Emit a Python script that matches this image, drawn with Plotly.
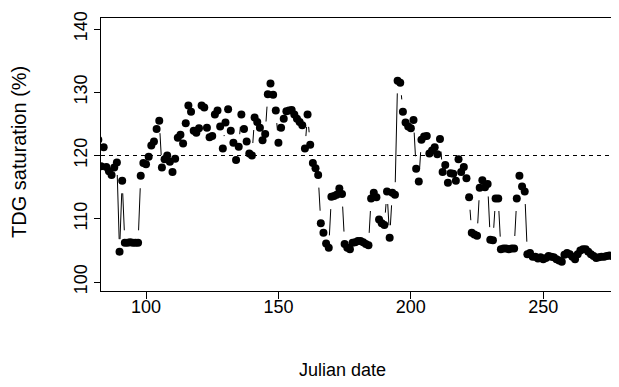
import math
import plotly.graph_objects as go

# ---- data ----
days = list(range(82, 280))
tdg = [
    122.5, 118.3, 121.3, 118.2, 117.5, 116.9, 118.1, 118.9, 104.8, 116.0,  # 82-91
    106.2, 106.2, 106.3, 106.2, 106.2, 106.2, 116.8, 118.8, 118.6, 119.8,  # 92-101
    121.6, 122.2, 124.2, 125.5, 118.1, 119.4, 120.0, 119.0, 117.4, 119.5,  # 102-111
    122.8, 123.3, 121.9, 125.1, 127.9, 126.9, 123.9, 123.6, 124.3, 127.9,  # 112-121
    127.6, 124.4, 122.9, 123.1, 126.5, 127.1, 124.6, 121.1, 125.2, 127.3,  # 122-131
    123.9, 122.0, 119.3, 121.4, 126.5, 124.2, 122.2, 120.3, 120.0, 126.0,  # 132-141
    125.3, 124.4, 122.4, 123.4, 129.7, 131.4, 129.6, 127.1, 122.0, 124.4,  # 142-151
    125.8, 127.0, 127.1, 127.2, 126.5, 125.8, 125.3, 124.8, 121.1, 126.5,  # 152-161
    121.7, 118.8, 118.0, 116.9, 109.3, 107.8, 106.1, 105.4, 113.5, 113.6,  # 162-171
    113.8, 114.8, 113.9, 106.0, 105.4, 105.2, 106.2, 106.3, 106.5, 106.5,  # 172-181
    106.3, 106.0, 105.8, 113.2, 114.1, 113.4, 109.9, 109.3, 109.0, 114.3,  # 182-191
    107.0, 114.1, 113.8, 131.8, 131.5, 126.9, 125.2, 124.6, 124.3, 125.6,  # 192-201
    117.9, 115.9, 122.5, 123.0, 123.1, 120.3, 120.8, 121.3, 120.2, 122.6,  # 202-211
    117.4, 118.5, 115.7, 117.2, 117.1, 116.0, 119.4, 117.4, 118.2, 116.4,  # 212-221
    113.4, 107.8, 107.5, 107.3, 114.9, 116.1, 115.0, 115.5, 106.7, 106.6,  # 222-231
    113.2, 113.2, 105.2, 105.3, 105.3, 105.2, 105.3, 105.3, 113.2, 116.8,  # 232-241
    115.1, 114.3, 104.4, 104.6, 104.0, 104.0, 103.7, 103.9, 103.6, 103.8,  # 242-251
    104.1, 104.0, 103.9, 103.6, 103.4, 103.2, 104.3, 104.6, 104.4, 104.0,  # 252-261
    103.6, 104.4, 105.0, 105.2, 105.2, 104.8, 104.4, 104.1, 103.8, 103.9,  # 262-271
    104.0, 104.0, 104.1, 104.2, 104.1, 104.3, 104.4, 104.4,                # 272-279
]
threshold = 120
x_ticks = [100, 150, 200, 250]
y_ticks = [100, 110, 120, 130, 140]

# ---- layout geometry (page body adds an 8px margin) ----
OFF = 8
W, H = 619 - OFF, 387 - OFF
PL, PT, PB = 101, 18, 291          # plot box in window pixels
ML, MT = PL - OFF, PT - OFF
MR = 0
MB = H - (PB - OFF)
XR = [83.0, 278.6]
YR = [98.58, 141.74]
plot_w = W - ML - MR
plot_h = H - MT - MB
ppx = plot_w / (XR[1] - XR[0])
ppy = plot_h / (YR[1] - YR[0])
GAP = 12.5  # px gap around points (R type="b")

sx, sy = [], []
for i in range(len(days) - 1):
    dxp = (days[i + 1] - days[i]) * ppx
    dyp = (tdg[i + 1] - tdg[i]) * ppy
    L = math.hypot(dxp, dyp)
    if L > 2 * GAP:
        f = GAP / L
        x0 = days[i] + (days[i + 1] - days[i]) * f
        y0 = tdg[i] + (tdg[i + 1] - tdg[i]) * f
        x1 = days[i + 1] - (days[i + 1] - days[i]) * f
        y1 = tdg[i + 1] - (tdg[i + 1] - tdg[i]) * f
        sx += [x0, x1, None]
        sy += [y0, y1, None]

FONT = "Liberation Sans, Arial, Helvetica, sans-serif"
FS = 18
fig = go.Figure()
fig.add_trace(go.Scatter(x=sx, y=sy, mode="lines",
                         line=dict(color="black", width=1), hoverinfo="skip"))
fig.add_trace(go.Scatter(x=days, y=tdg, mode="markers",
                         marker=dict(color="black", size=8, line=dict(width=0))))

fig.add_shape(type="line", xref="paper", yref="y", x0=0, x1=1,
              y0=threshold, y1=threshold,
              line=dict(color="black", width=1, dash="4px,4px"))


def px_to_paper_x(px):
    return (px - PL) / plot_w


def px_to_paper_y(py):
    return (PB - py) / plot_h


fig.update_layout(
    width=W, height=H, autosize=False, showlegend=False,
    margin=dict(l=ML, r=MR, t=MT, b=MB, pad=0),
    paper_bgcolor="white", plot_bgcolor="white",
    font=dict(family=FONT, size=FS, color="black"),
    xaxis=dict(range=XR, tickvals=x_ticks, ticks="outside", ticklen=7,
               tickcolor="black", showline=True, linecolor="black", linewidth=1,
               mirror=True, showgrid=False, zeroline=False,
               ticklabelstandoff=-8, tickfont=dict(size=FS)),
    yaxis=dict(range=YR, tickvals=y_ticks, ticks="outside", ticklen=6,
               tickcolor="black", showline=True, linecolor="black", linewidth=1,
               showgrid=False, zeroline=False, tickangle=-90,
               tickfont=dict(size=FS)),
    annotations=[
        dict(text="Julian date", xref="paper", yref="paper",
             x=px_to_paper_x(342), y=px_to_paper_y(370),
             showarrow=False, xanchor="center", yanchor="middle",
             font=dict(size=FS)),
        dict(text="TDG saturation (%)", xref="paper", yref="paper",
             x=px_to_paper_x(19), y=px_to_paper_y(152),
             showarrow=False, xanchor="center", yanchor="middle",
             textangle=-90, font=dict(size=20)),
    ],
)
fig.write_html("out.html")
